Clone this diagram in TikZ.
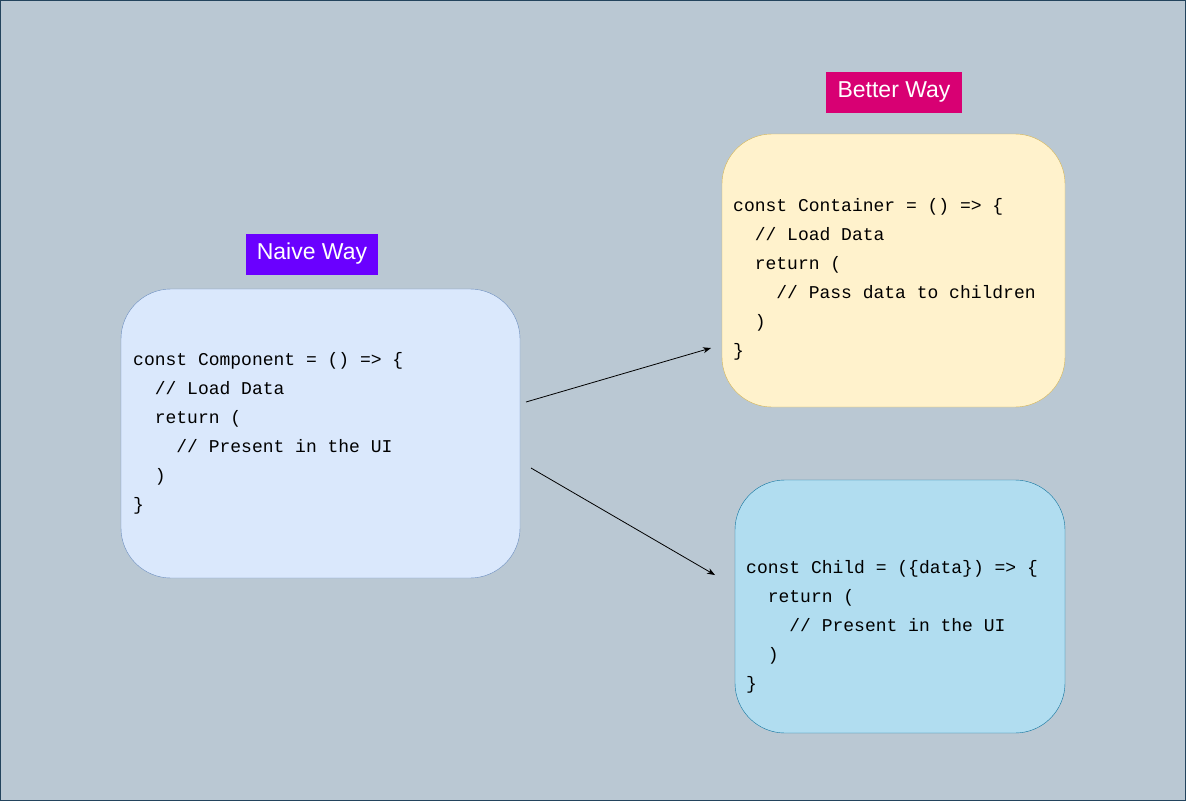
\documentclass[tikz,border=0pt]{standalone}
\usepackage{fontspec}
\setmainfont{Liberation Sans}
\setmonofont{Liberation Mono}
\usetikzlibrary{arrows.meta}
\begin{document}
\begin{tikzpicture}[x=1pt,y=-1pt,
  code/.style={anchor=west,align=left,font=\ttfamily\fontsize{18}{29}\selectfont,inner sep=0},
  lbl/.style={font=\fontsize{23}{26}\selectfont,text=white,inner sep=0,minimum height=41,draw=none},
  arr/.style={-{Stealth[length=8,width=6]},line width=0.8}]
\definecolor{bg}{HTML}{BAC8D3}\definecolor{bgd}{HTML}{23445D}
\definecolor{nf}{HTML}{DAE8FC}\definecolor{nd}{HTML}{6C8EBF}
\definecolor{cf}{HTML}{FFF2CC}\definecolor{cd}{HTML}{D6B656}
\definecolor{chf}{HTML}{B1DDF0}\definecolor{chd}{HTML}{10739E}
\definecolor{pv}{HTML}{6A00FF}\definecolor{pk}{HTML}{D80073}
\path[fill=bg,draw=bgd] (0.5,0.5) rectangle (1185.5,800.5);
\useasboundingbox (0,0) rectangle (1186,801);
\path[fill=nf,draw=nd,rounded corners=50] (121,289) rectangle (520,578);
\path[fill=cf,draw=cd,rounded corners=50] (722,134) rectangle (1065,407);
\path[fill=chf,draw=chd,rounded corners=50] (735,480) rectangle (1065,733);
\node[lbl,fill=pv,minimum width=132] (naive) at (312,254) {Naive Way};
\node[lbl,fill=pk,minimum width=136] (better) at (894,92) {Better Way};
\node[code] (comp) at (133,433) {const Component = () => \{\\\ \ // Load Data\\\ \ return (\\\ \ \ \ // Present in the UI\\\ \ )\\\}};
\node[code] (cont) at (733,279) {const Container = () => \{\\\ \ // Load Data\\\ \ return (\\\ \ \ \ // Pass data to children\\\ \ )\\\}};
\node[code] (child) at (746,627) {const Child = (\{data\}) => \{\\\ \ return (\\\ \ \ \ // Present in the UI\\\ \ )\\\}};
\coordinate (a1) at (526,402); \coordinate (b1) at (711,348);
\coordinate (a2) at (531,468); \coordinate (b2) at (715,575);
\draw[arr] (a1) -- (b1);
\draw[arr] (a2) -- (b2);
\end{tikzpicture}
\end{document}
